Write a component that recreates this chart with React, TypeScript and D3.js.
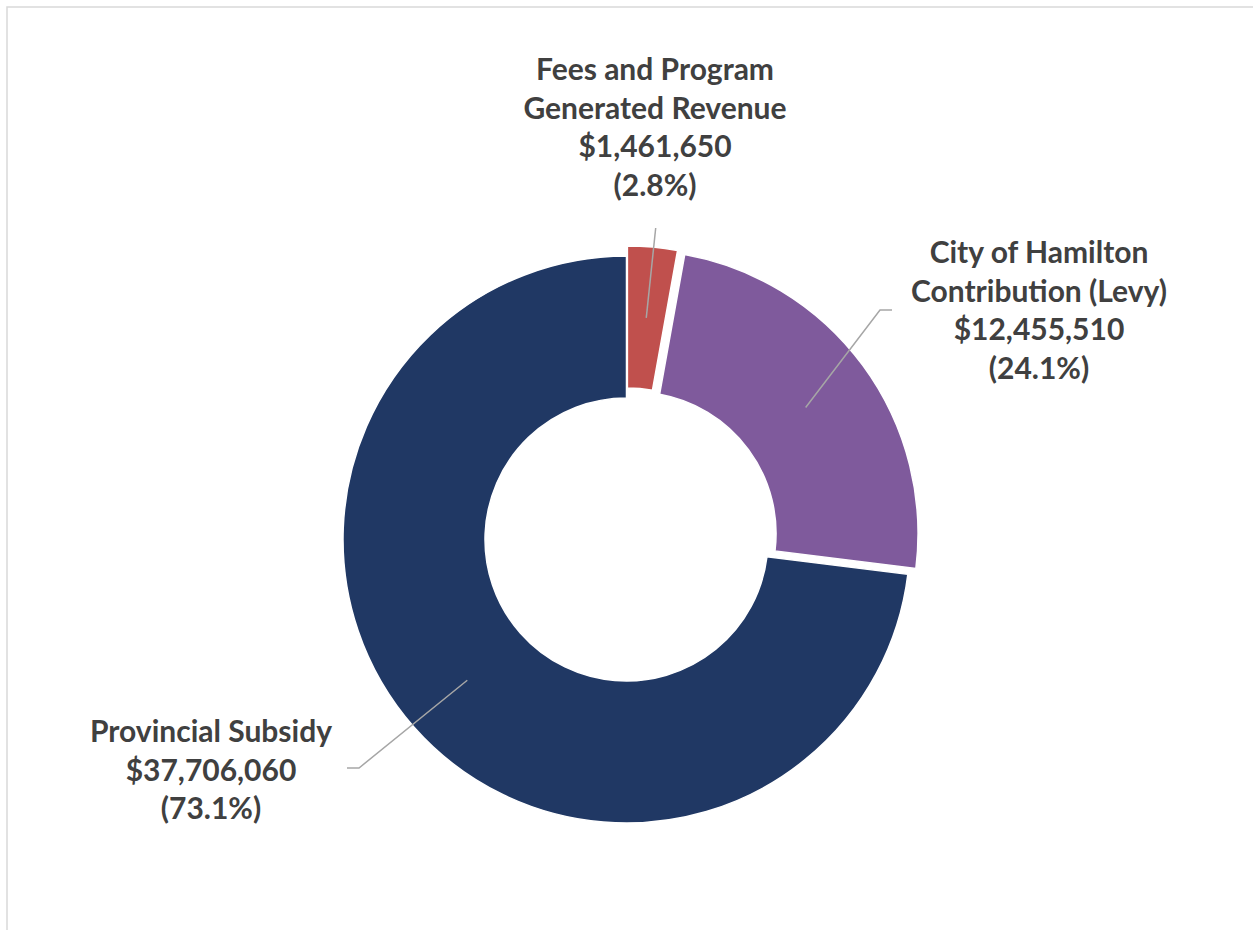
import React from "react";
import * as d3 from "d3";

const categories = [
  "Fees and Program Generated Revenue",
  "City of Hamilton Contribution (Levy)",
  "Provincial Subsidy",
];
const values = [1461650, 12455510, 37706060];
const percentLabels = ["(2.8%)", "(24.1%)", "(73.1%)"];
const labelNameLines = [
  ["Fees and Program", "Generated Revenue"],
  ["City of Hamilton", "Contribution (Levy)"],
  ["Provincial Subsidy"],
];
const colors = ["#C0504D", "#7F5A9C", "#203864"];
const explode = [10, 10, 0];

// label layout (text centre x, first baseline y), and leader-line elbow/end
const labelLayout = [
  { x: 655, y: 80, elbow: null as null | [number, number], end: [655.7, 228] as [number, number] },
  { x: 1039, y: 263, elbow: [880, 310] as [number, number], end: [892, 310] as [number, number] },
  { x: 211, y: 742, elbow: [359, 768] as [number, number], end: [347, 768] as [number, number] },
];

const W = 1253;
const H = 930;
const cx = 626.5;
const cy = 539.5;
const outerR = 283.5;
const innerR = 141.5;
const lineH = 38.7;

export default function App() {
  const fmt = d3.format("$,");
  const pie = d3
    .pie<number>()
    .sort(null)
    .value((d) => d)
    .startAngle(0)
    .endAngle(2 * Math.PI);
  const arcs = pie(values);
  const arcGen = d3.arc<d3.PieArcDatum<number>>().innerRadius(innerR).outerRadius(outerR);

  return (
    <svg
      width={W}
      height={H}
      style={{ position: "absolute", left: 0, top: 0, display: "block", background: "#fff" }}
    >
      <rect x={7} y={7} width={W + 20} height={H + 20} fill="#fff" stroke="#d9d9d9" strokeWidth={1.5} />
      <g transform={`translate(${cx},${cy})`}>
        {arcs.map((a, i) => {
          const mid = (a.startAngle + a.endAngle) / 2;
          const dx = explode[i] * Math.sin(mid);
          const dy = -explode[i] * Math.cos(mid);
          return (
            <path
              key={categories[i]}
              d={arcGen(a) || ""}
              transform={`translate(${dx},${dy})`}
              fill={colors[i]}
              stroke="#fff"
              strokeWidth={1.5}
            />
          );
        })}
      </g>
      {arcs.map((a, i) => {
        const mid = (a.startAngle + a.endAngle) / 2;
        const dx = explode[i] * Math.sin(mid);
        const dy = -explode[i] * Math.cos(mid);
        const c = arcGen.centroid(a);
        const start: [number, number] = [cx + c[0] + dx, cy + c[1] + dy];
        const L = labelLayout[i];
        const pts: [number, number][] = L.elbow ? [start, L.elbow, L.end] : [start, L.end];
        return (
          <path
            key={"leader" + i}
            d={d3.line()(pts) || ""}
            fill="none"
            stroke="#a6a6a6"
            strokeWidth={1.5}
          />
        );
      })}
      {labelLayout.map((L, i) => {
        const lines = [...labelNameLines[i], fmt(values[i]), percentLabels[i]];
        return (
          <text
            key={"label" + i}
            x={L.x}
            y={L.y}
            textAnchor="middle"
            fontFamily="Lato, 'Open Sans', sans-serif"
            fontWeight={700}
            fontSize={30}
            fill="#404040"
          >
            {lines.map((t, j) => (
              <tspan key={j} x={L.x} y={L.y + j * lineH}>
                {t}
              </tspan>
            ))}
          </text>
        );
      })}
    </svg>
  );
}
